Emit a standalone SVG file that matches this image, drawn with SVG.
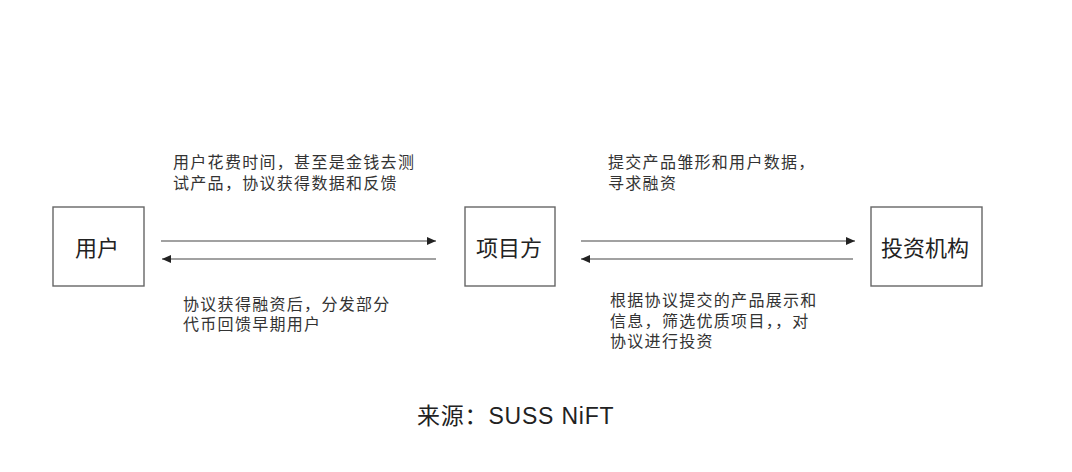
<svg xmlns="http://www.w3.org/2000/svg" width="1072" height="472" viewBox="0 0 1072 472">
<defs>
<style>
.box{fill:#fff;stroke:#666;stroke-width:1.4}
.lbl{font-family:"Noto Sans CJK SC",sans-serif;font-size:22px;fill:#222;text-anchor:middle}
.t{font-family:"Noto Sans CJK SC",sans-serif;font-size:16px;fill:#333;letter-spacing:1.3px}
.ln{stroke:#444;stroke-width:1.2;fill:none}
.cap{font-family:"Liberation Sans","Noto Sans CJK SC",sans-serif;font-size:23px;fill:#222;letter-spacing:0.8px}
</style>
<marker id="ah" markerUnits="userSpaceOnUse" markerWidth="10" markerHeight="8" refX="9" refY="4" orient="auto">
<path d="M0,0 L9,4 L0,8 Z" fill="#222"/>
</marker>
</defs>
<rect width="1072" height="472" fill="#fff"/>
<g id="node-user"><rect class="box" x="53" y="207" width="91" height="79"/><text class="lbl" x="97" y="256">用户</text></g>
<g id="node-project"><rect class="box" x="465" y="207" width="90" height="79"/><text class="lbl" x="509" y="256">项目方</text></g>
<g id="node-investor"><rect class="box" x="871" y="207" width="111" height="79"/><text class="lbl" x="925" y="256">投资机构</text></g>
<g id="connectors">
<line class="ln" x1="161" y1="241" x2="436" y2="241" marker-end="url(#ah)"/>
<line class="ln" x1="436" y1="259" x2="162" y2="259" marker-end="url(#ah)"/>
<line class="ln" x1="581" y1="241" x2="855" y2="241" marker-end="url(#ah)"/>
<line class="ln" x1="853" y1="259" x2="581" y2="259" marker-end="url(#ah)"/>
</g>
<g id="labels">
<text class="t" x="173" y="168">用户花费时间，甚至是金钱去测</text>
<text class="t" x="173" y="189">试产品，协议获得数据和反馈</text>
<text class="t" x="183" y="310">协议获得融资后，分发部分</text>
<text class="t" x="183" y="330">代币回馈早期用户</text>
<text class="t" x="608" y="168">提交产品雏形和用户数据，</text>
<text class="t" x="608" y="189">寻求融资</text>
<text class="t" x="610" y="306">根据协议提交的产品展示和</text>
<text class="t" x="610" y="327">信息，筛选优质项目，，对</text>
<text class="t" x="610" y="347">协议进行投资</text>
</g>
<text class="cap" x="417" y="424">来源：SUSS NiFT</text>
</svg>
